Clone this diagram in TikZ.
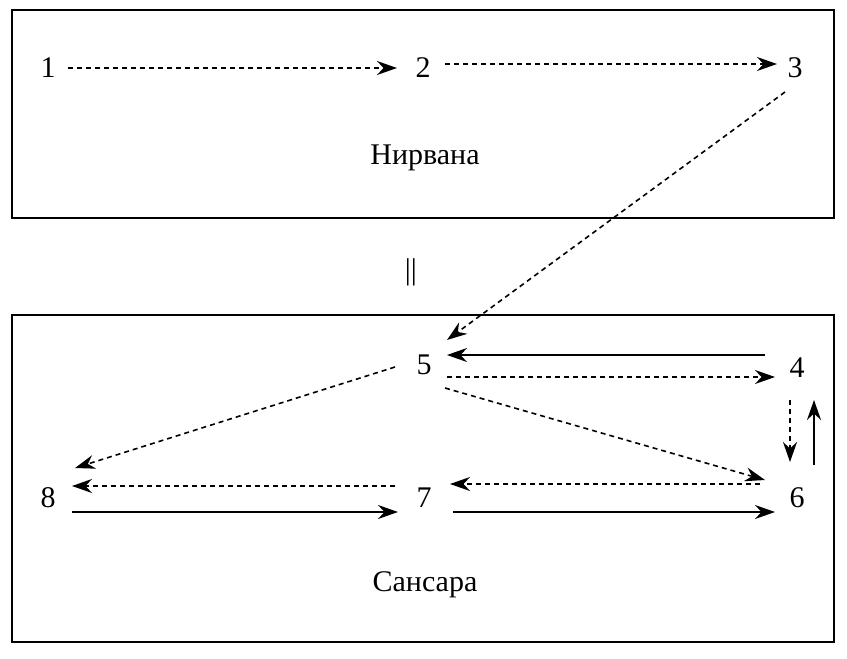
\documentclass[tikz,border=0pt]{standalone}
\usepackage{fontspec}
\setmainfont{Liberation Serif}
\usetikzlibrary{arrows.meta}
\begin{document}
\begin{tikzpicture}[x=1pt,y=-1pt,
  lbl/.style={font=\fontsize{30}{32}\selectfont},
  arr/.style={line width=1.6pt,-{Stealth[length=20pt,width=14pt]}},
  darr/.style={arr,dash pattern=on 5pt off 4pt},
  box/.style={draw,line width=1.8pt}]
\useasboundingbox (0,0) rectangle (847,659);
\draw[box] (12,10) rectangle (834,218);
\draw[box] (12,315) rectangle (834,642);
\node[lbl] (n1) at (48,68) {1};
\node[lbl] (n2) at (423,68) {2};
\node[lbl] (n3) at (795,68) {3};
\node[lbl] (nirv) at (425,158) {Нирвана};
\node[lbl] (eq) at (411,272) {||};
\node[lbl] (n5) at (424,365) {5};
\node[lbl] (n4) at (797,368) {4};
\node[lbl] (n8) at (48,498) {8};
\node[lbl] (n7) at (424,498) {7};
\node[lbl] (n6) at (797,498) {6};
\node[lbl] (sans) at (425,585) {Сансара};
\coordinate (a) at (68,68); \coordinate (b) at (397,68);
\coordinate (c) at (445,64); \coordinate (d) at (777,64);
\draw[darr] (a) -- (b);
\draw[darr] (c) -- (d);
\draw[darr] (785,92) -- (447,340);
\draw[arr] (765,355) -- (447,355);
\draw[darr] (447,377) -- (775,377);
\draw[darr] (445,388) -- (765,480);
\draw[darr] (395,367) -- (75,468);
\draw[darr] (790,400) -- (790,462);
\draw[arr] (814,465) -- (814,400);
\draw[darr] (760,484) -- (450,484);
\draw[darr] (395,486) -- (72,486);
\draw[arr] (72,512) -- (398,512);
\draw[arr] (453,512) -- (775,512);
\end{tikzpicture}
\end{document}
